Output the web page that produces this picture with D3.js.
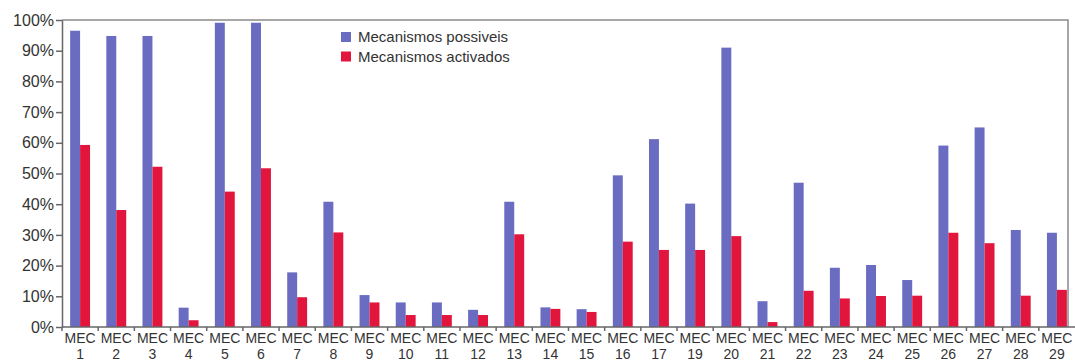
<!DOCTYPE html>
<html lang="pt">
  <head>
    <meta charset="utf-8" />
    <title>Mecanismos possiveis vs activados</title>
    <script type="text/javascript" src="https://d3js.org/d3.v7.min.js"></script>
    <style>
      body { margin: 0; background: #fff; }
      text { font-family: "Liberation Sans", Arial, sans-serif; fill: #333; }
    </style>
  </head>
  <body>
    <div id="graph"></div>

    <script type="text/javascript">
      /***************
       * data
       ***************/

      const categories = ["1", "2", "3", "4", "5", "6", "7", "8", "9", "10", "11", "12", "13", "14",
        "15", "16", "17", "19", "20", "21", "22", "23", "24", "25", "26", "27", "28", "29"];

      // % of mechanisms
      const possiveis = [96.5, 94.8, 94.8, 6.3, 99.1, 99.1, 17.8, 40.8, 10.4, 8.0, 8.0, 5.6, 40.8, 6.4,
        5.8, 49.4, 61.2, 40.2, 91.0, 8.4, 47.0, 19.3, 20.2, 15.3, 59.1, 65.0, 31.6, 30.7];
      const activados = [59.3, 38.1, 52.2, 2.2, 44.1, 51.7, 9.7, 30.8, 8.0, 3.9, 3.9, 3.9, 30.2, 5.9,
        4.9, 27.8, 25.1, 25.1, 29.6, 1.6, 11.8, 9.3, 10.1, 10.2, 30.7, 27.3, 10.2, 12.1];

      const seriesNames = ["Mecanismos possiveis", "Mecanismos activados"];
      const yTicks = [0, 10, 20, 30, 40, 50, 60, 70, 80, 90, 100];

      /***************
       * svg
       ***************/

      const width = 1075;
      const height = 362;
      const margin = { top: 20, right: 0, bottom: 35, left: 62 };

      const svg = d3.select("div#graph")
        .append("svg")
        .attr("width", width)
        .attr("height", height);

      /***************
       * scales
       ***************/

      const x0 = d3.scaleBand()
        .domain(categories)
        .range([margin.left, width - margin.right])
        .paddingInner(0.45)
        .paddingOuter(0.225);

      const x1 = d3.scaleBand()
        .domain([0, 1])
        .range([0, x0.bandwidth()]);

      const y = d3.scaleLinear()
        .domain([0, 100])
        .range([height - margin.bottom, margin.top]);

      const color = d3.scaleOrdinal().domain([0, 1]).range(["#6a6cc2", "#e2153d"]);

      // frame (top + right)
      svg.append("path")
        .attr("d", `M${margin.left},${y(100)}H1068V${y(0)}`)
        .attr("fill", "none")
        .attr("stroke", "#8a8a8a")
        .attr("stroke-width", 1.5);

      /***************
       * bars
       ***************/

      const groups = svg.selectAll("g.grp")
        .data(categories)
        .enter()
        .append("g")
        .attr("class", "grp")
        .attr("transform", d => `translate(${x0(d)},0)`);

      groups.selectAll("rect")
        .data((d, i) => [possiveis[i], activados[i]])
        .enter()
        .append("rect")
        .attr("x", (d, j) => x1(j))
        .attr("y", d => y(d))
        .attr("width", x1.bandwidth())
        .attr("height", d => y(0) - y(d))
        .attr("fill", (d, j) => color(j));

      /***************
       * axes
       ***************/

      const yAxis = svg.append("g")
        .attr("transform", `translate(${margin.left},0)`)
        .call(d3.axisLeft(y).tickValues(yTicks).tickFormat(d => d + "%").tickSize(6).tickSizeOuter(0));
      yAxis.select(".domain").attr("stroke", "#666").attr("stroke-width", 1.5);
      yAxis.selectAll(".tick line").attr("stroke", "#666").attr("stroke-width", 1.5);
      yAxis.selectAll("text").attr("font-size", 16).attr("x", -8).attr("fill", "#333");

      // x axis: ticks at band boundaries
      const xAxis = svg.append("g").attr("transform", `translate(0,${y(0)})`);
      xAxis.append("line")
        .attr("x1", margin.left).attr("x2", width)
        .attr("stroke", "#666").attr("stroke-width", 1.5);
      xAxis.selectAll("line.tk")
        .data(categories)
        .enter()
        .append("line")
        .attr("class", "tk")
        .attr("x1", d => x0(d) - x0.step() * 0.225)
        .attr("x2", d => x0(d) - x0.step() * 0.225)
        .attr("y1", 0).attr("y2", 4)
        .attr("stroke", "#666").attr("stroke-width", 1.5);

      // two-line labels: "MEC" over the number
      const cx = d => x0(d) + x0.bandwidth() / 2;
      xAxis.selectAll("text.mec")
        .data(categories)
        .enter()
        .append("text")
        .attr("class", "mec")
        .attr("text-anchor", "middle")
        .attr("font-size", 14)
        .attr("x", cx)
        .attr("y", 16)
        .text("MEC");
      xAxis.selectAll("text.num")
        .data(categories)
        .enter()
        .append("text")
        .attr("class", "num")
        .attr("text-anchor", "middle")
        .attr("font-size", 14)
        .attr("x", cx)
        .attr("y", 32)
        .text(d => d);

      /***************
       * legend
       ***************/

      const legend = svg.selectAll("g.leg")
        .data(seriesNames)
        .enter()
        .append("g")
        .attr("class", "leg")
        .attr("transform", (d, i) => `translate(341,${32 + i * 19.5})`);
      legend.append("rect")
        .attr("width", 10).attr("height", 10)
        .attr("fill", (d, i) => color(i));
      legend.append("text")
        .attr("x", 17).attr("y", 10)
        .attr("font-size", 15)
        .text(d => d);
    </script>
  </body>
</html>
